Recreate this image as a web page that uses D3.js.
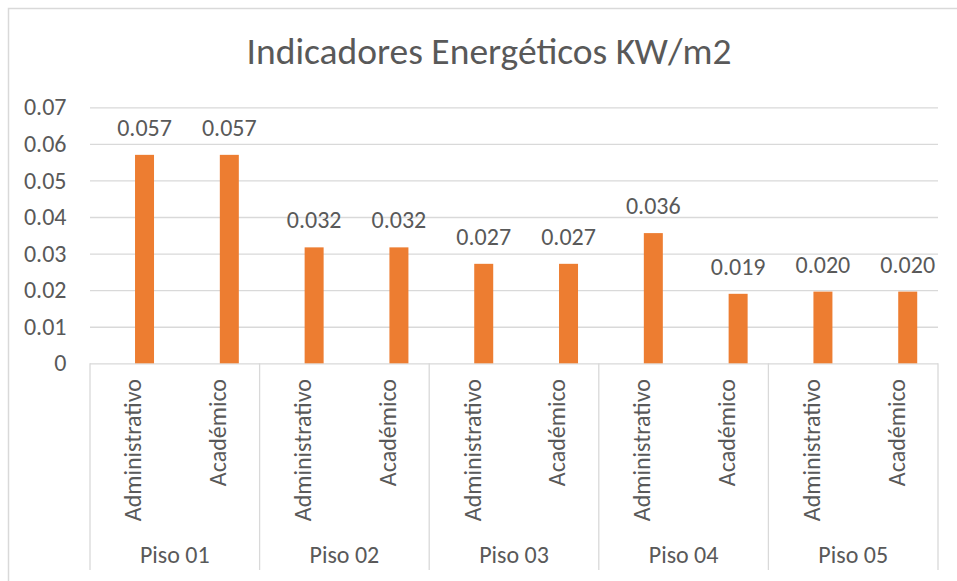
<!DOCTYPE html>
<html>
<head>
<meta charset="utf-8">
<script src="https://cdn.jsdelivr.net/npm/d3@7"></script>
<style>
  html, body { margin: 0; padding: 0; background: #fff; }
  svg { display: block; }
  text { font-family: Carlito, Calibri, "Open Sans", sans-serif; fill: #595959; }
</style>
</head>
<body>
<svg id="chart" width="957" height="581"></svg>
<script>
const title = "Indicadores Energéticos KW/m2";
const pisos = ["Piso 01", "Piso 02", "Piso 03", "Piso 04", "Piso 05"];
const tipos = ["Administrativo", "Académico"];
// values per piso, in order of tipos
const valores = [
  [0.0570, 0.0570],
  [0.0317, 0.0317],
  [0.0272, 0.0272],
  [0.0356, 0.0190],
  [0.0196, 0.0196]
];
const yTicks = [0, 0.01, 0.02, 0.03, 0.04, 0.05, 0.06, 0.07];
const yTickLabels = ["0", "0.01", "0.02", "0.03", "0.04", "0.05", "0.06", "0.07"];

const W = 957, H = 581;
const m = { left: 90, right: 938, top: 107.3, bottom: 363.3 };
const svg = d3.select("#chart");

// chart border (only left & top visible in frame)
svg.append("path")
  .attr("d", `M8.5,${H} V8.5 H${W}`)
  .attr("fill", "none").attr("stroke", "#d9d9d9").attr("stroke-width", 1.5);

const y = d3.scaleLinear().domain([0, 0.07]).range([m.bottom, m.top]);
const xGroup = d3.scaleBand().domain(pisos).range([m.left, m.right]);
const xCat = d3.scaleBand().domain(tipos).range([0, xGroup.bandwidth()]);

// gridlines + tick labels
const yAxis = d3.axisLeft(y).tickValues(yTicks)
  .tickSize(-(m.right - m.left)).tickPadding(23.5)
  .tickFormat((d, i) => yTickLabels[i]);
const gy = svg.append("g").attr("transform", `translate(${m.left},0)`).call(yAxis);
gy.select(".domain").remove();
gy.selectAll(".tick line").attr("stroke", "#d9d9d9").attr("stroke-width", 1.3);
gy.selectAll(".tick text").attr("font-size", 24).attr("fill", "#595959")
  .style("font-family", 'Carlito, Calibri, "Open Sans", sans-serif');

// category axis separators
const bounds = pisos.map(p => xGroup(p)).concat([m.right]);
svg.append("g").selectAll("line").data(bounds).join("line")
  .attr("x1", d => d).attr("x2", d => d)
  .attr("y1", m.bottom).attr("y2", 570)
  .attr("stroke", "#d9d9d9").attr("stroke-width", 1.3);

// flat data
const flat = [];
pisos.forEach((p, i) => tipos.forEach((t, j) => flat.push({ piso: p, tipo: t, v: valores[i][j] })));

const barW = xCat.bandwidth() * 0.224;
const barOff = xCat.bandwidth() * 0.531;
const fmt = d3.format(".3f");

svg.append("g").selectAll("rect").data(flat).join("rect")
  .attr("x", d => xGroup(d.piso) + xCat(d.tipo) + barOff)
  .attr("y", d => y(d.v))
  .attr("width", barW)
  .attr("height", d => y(0) - y(d.v))
  .attr("fill", "#ed7d31");

svg.append("g").selectAll("text").data(flat).join("text")
  .attr("x", d => xGroup(d.piso) + xCat(d.tipo) + barOff + barW / 2)
  .attr("y", d => y(d.v) - 19)
  .attr("text-anchor", "middle")
  .attr("font-size", 24)
  .text(d => fmt(d.v));

// rotated category labels
svg.append("g").selectAll("text").data(flat).join("text")
  .attr("transform", d => `translate(${xGroup(d.piso) + xCat(d.tipo) + xCat.bandwidth() / 2 + 0.5},379) rotate(-90)`)
  .attr("text-anchor", "end")
  .attr("dy", "0.35em")
  .attr("font-size", 24)
  .text(d => d.tipo);

// group labels
svg.append("g").selectAll("text").data(pisos).join("text")
  .attr("x", d => xGroup(d) + xGroup.bandwidth() / 2)
  .attr("y", 563)
  .attr("text-anchor", "middle")
  .attr("font-size", 24)
  .text(d => d);

// title
svg.append("text")
  .attr("x", 489).attr("y", 64)
  .attr("text-anchor", "middle")
  .attr("font-size", 37.5)
  .text(title);
</script>
</body>
</html>
